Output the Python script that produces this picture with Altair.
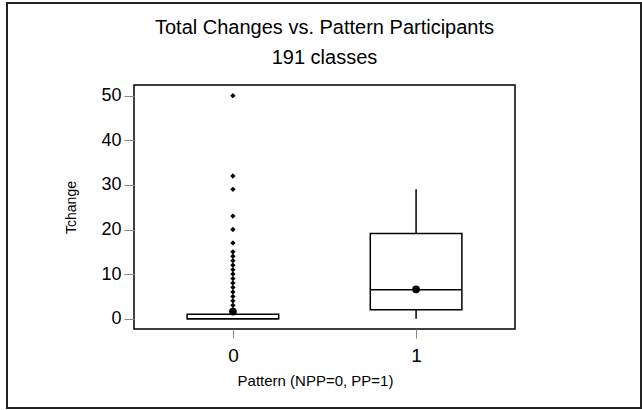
import altair as alt
import pandas as pd

# Titles
title_line1 = "Total Changes vs. Pattern Participants"
title_line2 = "191 classes"

# Summary statistics
groups = [0, 1]
q1 = [0, 2]
q3 = [1, 19.1]
medians = [0, 6.5]
means = [1.6, 6.6]
whisker_lo = [0, 0]
whisker_hi = [1, 29]

# Outliers (group 0)
outlier_group = [0] * 20
outlier_vals = [2, 3, 4, 5, 6, 7, 8, 9, 10, 11, 12, 13, 14, 15, 17, 20, 23, 29, 32, 50]

box_df = pd.DataFrame({
    "group": groups, "q1": q1, "q3": q3, "med": medians, "mean": means,
    "lo": whisker_lo, "hi": whisker_hi,
})
out_df = pd.DataFrame({"group": outlier_group, "val": outlier_vals})

FONT = "Liberation Sans"
xscale = alt.Scale(domain=[-0.54, 1.54], nice=False, zero=False)
yscale = alt.Scale(domain=[-2.31, 52.4], nice=False, zero=False)

xaxis = alt.Axis(values=[0, 1], format="d", title="Pattern (NPP=0, PP=1)",
                 labelFontSize=19, titleFontSize=15, labelFont=FONT, titleFont=FONT,
                 titleFontWeight="normal", labelColor="black", titleColor="black",
                 tickSize=9, tickColor="#888888", tickWidth=1, domain=False, grid=False,
                 labelPadding=8, titlePadding=8, titleX=181)
yaxis = alt.Axis(values=[0, 10, 20, 30, 40, 50], title="Tchange",
                 labelFontSize=18, titleFontSize=14, labelFont=FONT, titleFont=FONT,
                 titleFontWeight="normal", labelColor="black", titleColor="black",
                 tickSize=10, tickColor="#888888", tickWidth=1, domain=False, grid=False,
                 labelPadding=3, titlePadding=22)

base = alt.Chart(box_df).transform_calculate(
    x0="datum.group - 0.25", x1="datum.group + 0.25"
)

whisk_hi = base.mark_rule(color="black", strokeWidth=1.5).encode(
    x=alt.X("group:Q", scale=xscale, axis=xaxis),
    y=alt.Y("q3:Q", scale=yscale, axis=yaxis),
    y2="hi:Q",
)
whisk_lo = base.mark_rule(color="black", strokeWidth=1.5).encode(
    x=alt.X("group:Q", scale=xscale), y=alt.Y("lo:Q", scale=yscale), y2="q1:Q",
)
box = base.mark_rect(fill="white", stroke="black", strokeWidth=1.5).encode(
    x=alt.X("x0:Q", scale=xscale), x2="x1:Q",
    y=alt.Y("q1:Q", scale=yscale), y2="q3:Q",
)
med = base.mark_rule(color="black", strokeWidth=1.5).encode(
    x=alt.X("x0:Q", scale=xscale), x2="x1:Q", y=alt.Y("med:Q", scale=yscale),
)
meanpt = base.mark_point(shape="circle", filled=True, color="black", size=60, opacity=1).encode(
    x=alt.X("group:Q", scale=xscale), y=alt.Y("mean:Q", scale=yscale),
)
outl = alt.Chart(out_df).mark_point(shape="diamond", filled=True, color="black", size=28, opacity=1).encode(
    x=alt.X("group:Q", scale=xscale), y=alt.Y("val:Q", scale=yscale),
)

one = pd.DataFrame({"f": [0]})
frame = alt.Chart(one).mark_rect(
    fill=None, stroke="#222222", strokeWidth=2
).encode(x=alt.value(-127), x2=alt.value(507), y=alt.value(-82), y2=alt.value(323))

t1 = alt.Chart(one).mark_text(
    font=FONT, fontSize=20, color="black", align="center", baseline="alphabetic"
).encode(x=alt.value(190.5), y=alt.value(-51), text=alt.value(title_line1))
t2 = alt.Chart(one).mark_text(
    font=FONT, fontSize=20, color="black", align="center", baseline="alphabetic"
).encode(x=alt.value(190.5), y=alt.value(-21), text=alt.value(title_line2))

chart = alt.layer(frame, t1, t2, whisk_hi, whisk_lo, box, med, outl, meanpt).properties(
    width=381, height=244,
    background="white",
    autosize=alt.AutoSizeParams(type="none"),
    padding={"left": 134, "top": 85, "right": 127, "bottom": 81},
).configure_view(stroke="black", strokeWidth=1.5)

chart.save("out.html", embed_options={"renderer": "svg", "actions": False})
